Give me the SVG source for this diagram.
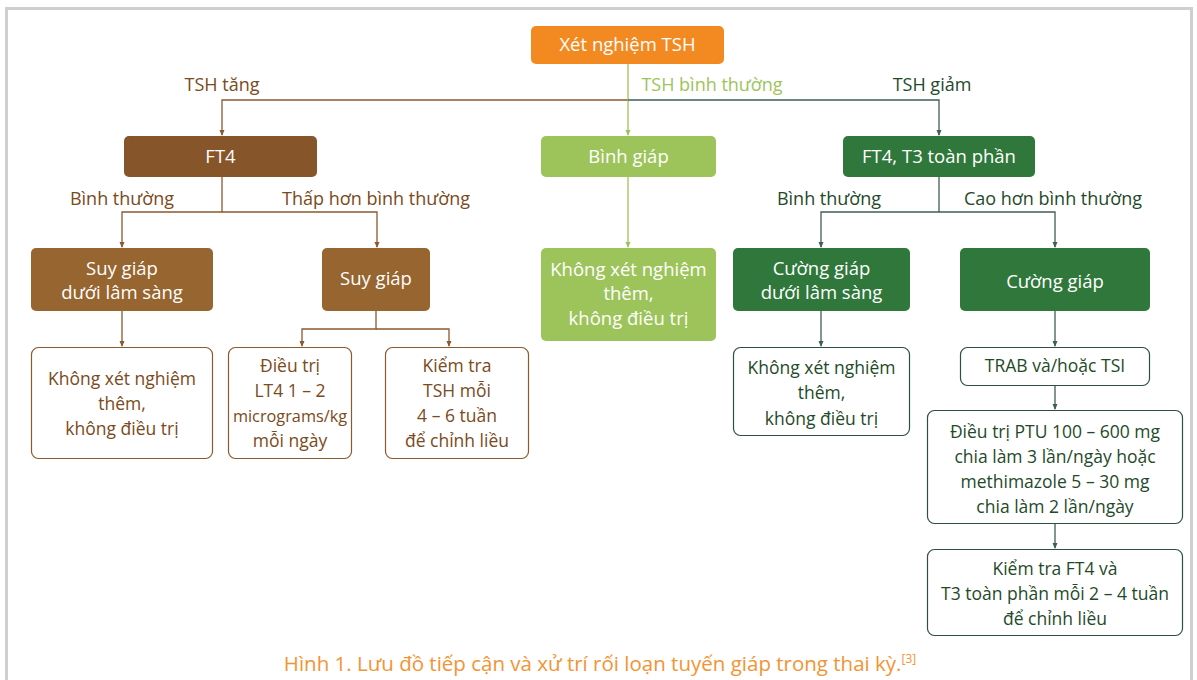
<svg xmlns="http://www.w3.org/2000/svg" width="1197" height="680" viewBox="0 0 1197 680">
<defs>
<style>
text{font-family:"Open Sans","Noto Sans","Liberation Sans",sans-serif;font-size:17.5px;text-anchor:middle}
.w{fill:#ffffff;font-size:18.5px}
.br{fill:#7a4a20}
.dg{fill:#1f4a2a}
.lg{fill:#9dc45a}
.lbl{font-size:18px}
.cb{fill:none;stroke:#8a5a2e;stroke-width:1.3}
.cg{fill:none;stroke:#9dc45a;stroke-width:1.3}
.cd{fill:none;stroke:#3f5f55;stroke-width:1.3}
</style>
<marker id="ag" markerWidth="6" markerHeight="6" refX="5" refY="3" orient="auto" markerUnits="userSpaceOnUse"><path d="M0,0.5 L6,3 L0,5.5 Z" fill="#9dc45a"/></marker>
<marker id="ad" markerWidth="6" markerHeight="6" refX="5" refY="3" orient="auto" markerUnits="userSpaceOnUse"><path d="M0,0.5 L6,3 L0,5.5 Z" fill="#3f5f55"/></marker>
<marker id="ab2" markerWidth="6" markerHeight="6" refX="5" refY="3" orient="auto" markerUnits="userSpaceOnUse"><path d="M0,0.5 L6,3 L0,5.5 Z" fill="#8a5a2e"/></marker>
</defs>
<rect x="0" y="0" width="1197" height="680" fill="#ffffff"/>
<rect x="6.5" y="8.5" width="1185" height="700" fill="none" stroke="#cfcfcf" stroke-width="3"/>

<g id="connectors">
<path class="cb" d="M628,100 H222 V135" marker-end="url(#ab2)"/>
<path class="cg" d="M628,64 V135" marker-end="url(#ag)"/>
<path class="cd" d="M628,100 H939 V135" marker-end="url(#ad)"/>
<path class="cb" d="M222,177 V212 H122 V247" marker-end="url(#ab2)"/>
<path class="cb" d="M222,212 H377 V247" marker-end="url(#ab2)"/>
<path class="cb" d="M122,311 V346" marker-end="url(#ab2)"/>
<path class="cb" d="M376,311 V329 H302 V346" marker-end="url(#ab2)"/>
<path class="cb" d="M376,329 H449 V346" marker-end="url(#ab2)"/>
<path class="cg" d="M628,177 V247" marker-end="url(#ag)"/>
<path class="cd" d="M939,177 V212 H821 V247" marker-end="url(#ad)"/>
<path class="cd" d="M939,212 H1055 V247" marker-end="url(#ad)"/>
<path class="cd" d="M821,311 V346" marker-end="url(#ad)"/>
<path class="cd" d="M1055,311 V346" marker-end="url(#ad)"/>
<path class="cd" d="M1055,386 V409" marker-end="url(#ad)"/>
<path class="cd" d="M1055,524 V548" marker-end="url(#ad)"/>
<text class="br lbl" x="222" y="91">TSH tăng</text>
<text class="lg lbl" x="712" y="91">TSH bình thường</text>
<text class="dg lbl" x="932" y="91">TSH giảm</text>
<text class="br lbl" x="122" y="205">Bình thường</text>
<text class="br lbl" x="376" y="205">Thấp hơn bình thường</text>
<text class="dg lbl" x="829" y="205">Bình thường</text>
<text class="dg lbl" x="1053" y="205">Cao hơn bình thường</text>
</g>

<g id="n-tsh"><rect x="531" y="26" width="193" height="38" rx="5" fill="#f28a21"/><text class="w" x="627.5" y="51">Xét nghiệm TSH</text></g>
<g id="n-ft4"><rect x="124" y="136" width="193" height="41" rx="5" fill="#87552a"/><text class="w" x="220.5" y="163">FT4</text></g>
<g id="n-binhgiap"><rect x="541" y="136" width="175" height="41" rx="5" fill="#9dc45a"/><text class="w" x="628.5" y="163">Bình giáp</text></g>
<g id="n-ft4t3"><rect x="843" y="136" width="192" height="41" rx="5" fill="#2f773b"/><text class="w" x="939" y="163">FT4, T3 toàn phần</text></g>

<g id="n-suygiapdls"><rect x="31" y="248" width="182" height="63" rx="5" fill="#97652f"/><text class="w" x="122" y="275">Suy giáp</text><text class="w" x="122" y="299">dưới lâm sàng</text></g>
<g id="n-suygiap"><rect x="322" y="248" width="108" height="63" rx="5" fill="#97652f"/><text class="w" x="376" y="285">Suy giáp</text></g>
<g id="n-khong2"><rect x="541" y="248" width="175" height="93" rx="5" fill="#9dc45a"/><text class="w" x="628.5" y="276">Không xét nghiệm</text><text class="w" x="628.5" y="300">thêm,</text><text class="w" x="628.5" y="325">không điều trị</text></g>
<g id="n-cuonggiapdls"><rect x="733" y="248" width="177" height="63" rx="5" fill="#2f773b"/><text class="w" x="821.5" y="275">Cường giáp</text><text class="w" x="821.5" y="299">dưới lâm sàng</text></g>
<g id="n-cuonggiap"><rect x="960" y="248" width="190" height="63" rx="5" fill="#2f773b"/><text class="w" x="1055" y="288">Cường giáp</text></g>

<g id="n-khong1"><rect x="31.5" y="347.5" width="181" height="111" rx="7" fill="#fff" stroke="#8a5a2e" stroke-width="1.2"/><text class="br" x="122" y="385">Không xét nghiệm</text><text class="br" x="122" y="410">thêm,</text><text class="br" x="122" y="435">không điều trị</text></g>
<g id="n-dieutri1"><rect x="228.5" y="347.5" width="123" height="111" rx="7" fill="#fff" stroke="#8a5a2e" stroke-width="1.2"/><text class="br" x="290" y="372">Điều trị</text><text class="br" x="290" y="397">LT4 1 – 2</text><text class="br" x="290" y="422" style="font-size:16.3px">micrograms/kg</text><text class="br" x="290" y="447">mỗi ngày</text></g>
<g id="n-kiemtra1"><rect x="385.5" y="347.5" width="143" height="111" rx="7" fill="#fff" stroke="#8a5a2e" stroke-width="1.2"/><text class="br" x="457" y="372">Kiểm tra</text><text class="br" x="457" y="397">TSH mỗi</text><text class="br" x="457" y="422">4 – 6 tuần</text><text class="br" x="457" y="447">để chỉnh liều</text></g>
<g id="n-khong3"><rect x="733.5" y="347.5" width="176" height="88" rx="7" fill="#fff" stroke="#2f4f40" stroke-width="1.2"/><text class="dg" x="821.5" y="374">Không xét nghiệm</text><text class="dg" x="821.5" y="399">thêm,</text><text class="dg" x="821.5" y="425">không điều trị</text></g>
<g id="n-trab"><rect x="960.5" y="347.5" width="189" height="38" rx="7" fill="#fff" stroke="#2f4f40" stroke-width="1.2"/><text class="dg" x="1055" y="372">TRAB và/hoặc TSI</text></g>
<g id="n-ptu"><rect x="927.5" y="410.5" width="255" height="113" rx="7" fill="#fff" stroke="#2f4f40" stroke-width="1.2"/><text class="dg" x="1055" y="438">Điều trị PTU 100 – 600 mg</text><text class="dg" x="1055" y="463">chia làm 3 lần/ngày hoặc</text><text class="dg" x="1055" y="488">methimazole 5 – 30 mg</text><text class="dg" x="1055" y="513">chia làm 2 lần/ngày</text></g>
<g id="n-kiemtra2"><rect x="927.5" y="549.5" width="255" height="86" rx="7" fill="#fff" stroke="#2f4f40" stroke-width="1.2"/><text class="dg" x="1055" y="575">Kiểm tra FT4 và</text><text class="dg" x="1055" y="600">T3 toàn phần mỗi 2 – 4 tuần</text><text class="dg" x="1055" y="625">để chỉnh liều</text></g>

<text x="600" y="671" style="font-size:20.5px;fill:#f39433">Hình 1. Lưu đồ tiếp cận và xử trí rối loạn tuyến giáp trong thai kỳ.<tspan dy="-8" style="font-size:12px">[3]</tspan></text>
</svg>
